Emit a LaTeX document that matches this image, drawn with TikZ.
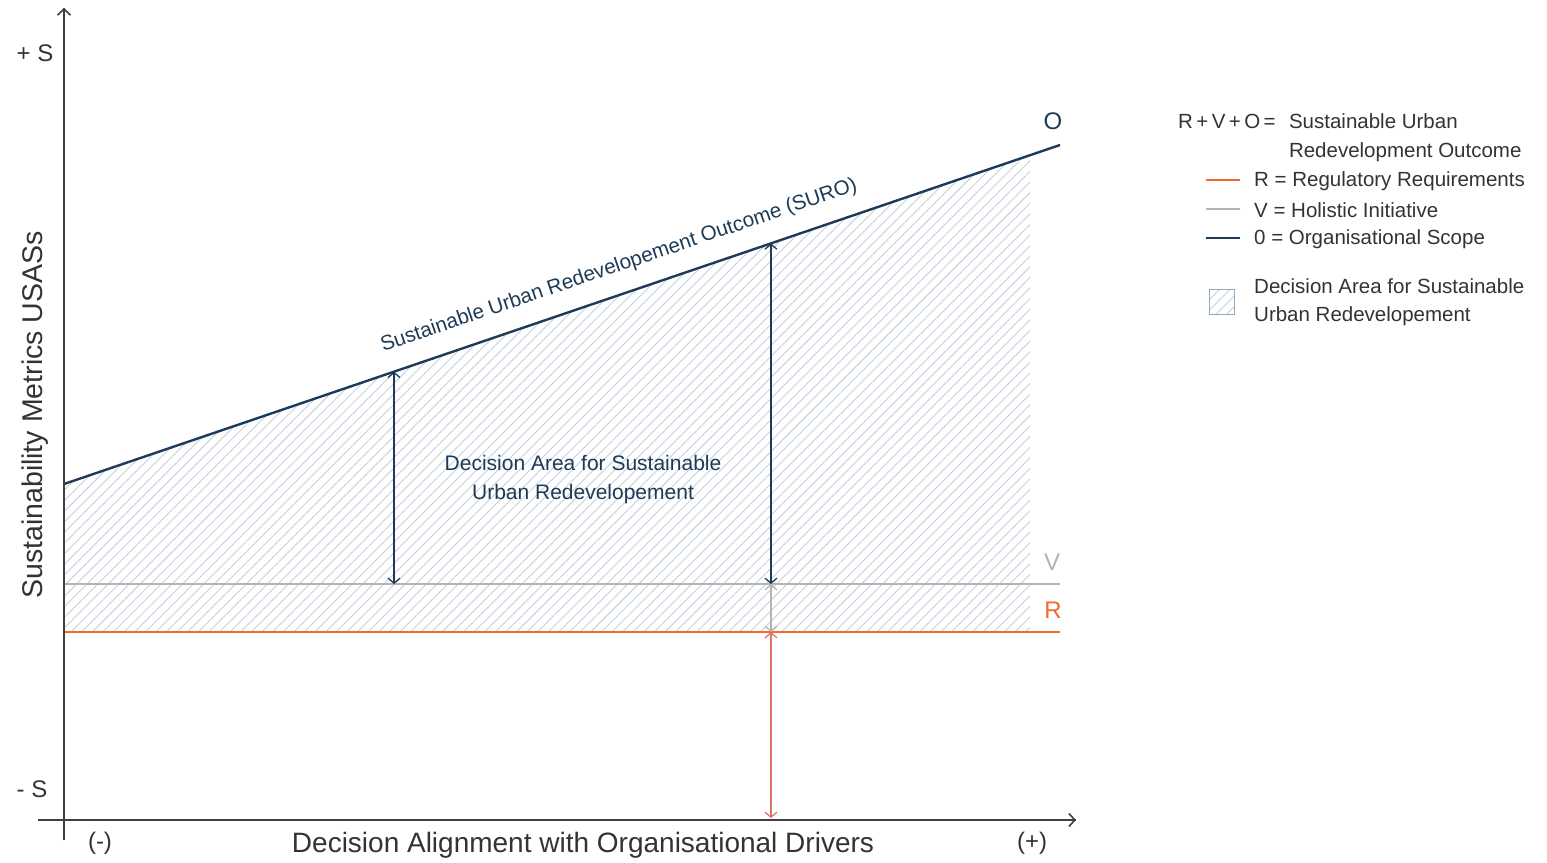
\documentclass[tikz,border=0pt]{standalone}
\usepackage{fontspec}
\setmainfont{Liberation Sans}
\usetikzlibrary{arrows.meta,patterns.meta,positioning,calc}
\definecolor{suro}{HTML}{1D3B58}
\definecolor{reg}{HTML}{F2692B}
\definecolor{holi}{HTML}{B4B4B4}
\definecolor{axisgray}{HTML}{404040}
\definecolor{txt}{HTML}{333333}
\definecolor{hatch}{HTML}{C5D1DB}
\definecolor{hatchbox}{HTML}{8FA8BB}
\definecolor{gap}{HTML}{E0766A}
\begin{document}
\begin{tikzpicture}[x=1pt, y=-1pt,
                    every node/.style={inner sep=0pt, text=txt},
                    axisline/.style={draw=axisgray, line width=1.6pt},
                    dim/.style={line width=1.3pt, {Straight Barb[length=5pt,width=12pt]}-{Straight Barb[length=5pt,width=12pt]}},
                    hatched/.style={pattern={Lines[angle=45,distance=7.5pt,line width=0.9pt]}, pattern color=hatch},
                    big/.style={font=\fontsize{24}{28}\selectfont},
                    leg/.style={font=\fontsize{20.5}{28.5}\selectfont, anchor=west},
                    legline/.style={line width=2.4pt},
                ]
                \useasboundingbox (0,0) rectangle (1547,862);
                \coordinate (orig) at (64,820);
                \coordinate (ytop) at (64,8);
                \coordinate (ybot) at (64,840);
                \coordinate (xleft) at (38,820);
                \coordinate (xright) at (1076,820);
                \coordinate (oL) at (64,484);
                \coordinate (oR) at (1060,145);
                \coordinate (vL) at (64,584);
                \coordinate (vR) at (1060,584);
                \coordinate (rL) at (64,632);
                \coordinate (rR) at (1060,632);
                \coordinate (hatchtop) at ($(oL)!0.9699!(oR)$);
                \coordinate (a1top) at ($(oL)!0.3313!(oR)$);
                \coordinate (a1bot) at (a1top |- vL);
                \coordinate (a2top) at ($(oL)!0.7098!(oR)$);
                \coordinate (a2mid) at (a2top |- vL);
                \coordinate (a2low) at (a2top |- rL);
                \coordinate (a2bot) at ([yshift=2pt]a2top |- orig);
                % decision area
                \fill[hatched] (oL) -- (hatchtop) -- (hatchtop |- rL) -- (rL) -- cycle;
                \draw[holi, line width=2pt] (vL) -- (vR);
                \draw[reg, line width=2.4pt] (rL) -- (rR);
                \draw[suro, line width=2.4pt] (oL) -- (oR);
                \draw[dim, suro] (a1bot) -- (a1top);
                \draw[dim, suro] (a2mid) -- (a2top);
                \draw[dim, holi] (a2mid) -- (a2low);
                \draw[dim, gap] (a2low) -- (a2bot);
                % axes
                \draw[axisline] (ybot) -- (ytop);
                \draw[axisline] (xleft) -- (xright);
                \draw[axisline, -{Straight Barb[length=6pt,width=13pt]}] (orig) -- (ytop);
                \draw[axisline, -{Straight Barb[length=6pt,width=13pt]}] (orig) -- (xright);
                \node[big, text=suro] (olbl) at (1053,121) {O};
                \node[big, text=holi] (vlbl) at (1052,562) {V};
                \node[big, text=reg] (rlbl) at (1053,610) {R};
                \node[big] (smax) at (35,53) {+ S};
                \node[big] (smin) at (32,789) {- S};
                \node[big] (neg) at (100,843) {(-)};
                \node[big] (pos) at (1032,843) {(+)};
                \node[font=\fontsize{28}{32}\selectfont] (xlbl) at (583,845) {Decision Alignment with Organisational Drivers};
                \node[font=\fontsize{28.5}{32}\selectfont, rotate=90] (ylbl) at (35,415) {Sustainability Metrics USASs};
                \node[font=\fontsize{20.7}{29}\selectfont, text=suro, rotate=18.8] (surolbl) at (619,266) {Sustainable Urban Redevelopement Outcome (SURO)};
                \node[font=\fontsize{21}{29}\selectfont, text=suro, align=center] (arealbl) at (583,480) {Decision Area for Sustainable\\Urban Redevelopement};
                % legend
                \node[leg] (legeq) at (1178,121) {R\,+\,V\,+\,O\,=};
                \node[leg, anchor=north west, align=left, xshift=13pt] (legsuro) at (legeq.north east) {Sustainable Urban\\Redevelopment Outcome};
                \node[leg] (legR) at (1254,181) {R = Regulatory Requirements};
                \node[leg] (legV) at (1254,210) {V = Holistic Initiative};
                \node[leg] (legO) at (1254,239) {0 = Organisational Scope};
                \node[leg, align=left] (legA) at (1254,302) {Decision Area for Sustainable\\Urban Redevelopement};
                \draw[legline, reg] ([xshift=-14pt,yshift=1pt]legR.west) -- ++(-34,0);
                \draw[legline, holi] ([xshift=-14pt,yshift=1pt]legV.west) -- ++(-34,0);
                \draw[legline, suro] ([xshift=-14pt,yshift=1pt]legO.west) -- ++(-34,0);
                \node[draw=hatchbox, line width=1pt, hatched, minimum size=25pt, left=19pt of legA] (legbox) {};
                \end{tikzpicture}
\end{document}
